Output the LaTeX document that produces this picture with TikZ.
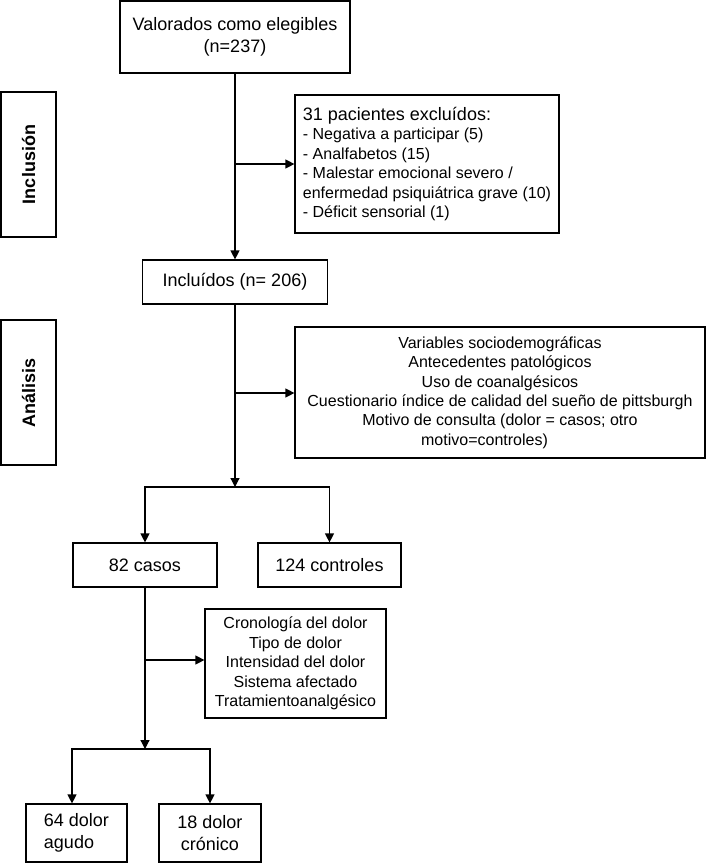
\documentclass[tikz,border=0pt]{standalone}
\usepackage{fontspec}
\setmainfont{Liberation Sans}
\usetikzlibrary{arrows.meta}
\newcommand\fsbig{\fontsize{18pt}{22pt}\selectfont}
\newcommand\fssmall{\fontsize{16pt}{19.4pt}\selectfont}
\begin{document}
\begin{tikzpicture}[x=1pt,y=-1pt,
  box/.style={draw,line width=1.2pt,inner sep=0pt,align=center,font=\fsbig},
  listbox/.style={draw,line width=1.2pt,inner sep=0pt,align=center,font=\fssmall},
  side/.style={draw,line width=1.2pt,inner sep=0pt,rotate=90,font=\fsbig\bfseries,minimum width=145pt,minimum height=55pt},
  arr/.style={line width=1.2pt,-{Triangle[length=9pt,width=9pt]}}]
\useasboundingbox (0,0) rectangle (706,863);
% nodes
\node[box,minimum width=230pt,minimum height=72pt] (top) at (235,37) {Valorados como elegibles\\(n=237)};
\node[side] (incl) at (28.5,164.5) {Inclusión};
\node[listbox,align=left,minimum width=264pt,minimum height=138pt] (excl) at (427,164)
  {{\fsbig 31 pacientes excluídos:}\\- Negativa a participar (5)\\- Analfabetos (15)\\- Malestar emocional severo /\\enfermedad psiquiátrica grave (10)\\- Déficit sensorial (1)};
\node[box,minimum width=185pt,minimum height=44pt] (inclu) at (235,282) {Incluídos (n= 206)};
\node[side] (anal) at (28.5,392.5) {Análisis};
\node[listbox,minimum width=410pt,minimum height=131pt] (vars) at (500,392.5)
  {Variables sociodemográficas\\Antecedentes patológicos\\Uso de coanalgésicos\\Cuestionario índice de calidad del sueño de pittsburgh\\Motivo de consulta (dolor = casos; otro\\motivo=controles)\hspace*{31pt}};
\node[box,minimum width=144pt,minimum height=44pt] (casos) at (145,565) {82 casos};
\node[box,minimum width=143pt,minimum height=44pt] (ctrl) at (329.5,565) {124 controles};
\node[listbox,minimum width=181pt,minimum height=109pt] (tipo) at (295.5,663.5)
  {Cronología del dolor\\Tipo de dolor\\Intensidad del dolor\\Sistema afectado\\Tratamientoanalgésico};
\node[box,align=left,minimum width=101pt,minimum height=58pt] (agudo) at (76.5,833) {64 dolor\\agudo};
\node[box,minimum width=102pt,minimum height=58pt] (cron) at (210,833) {18 dolor\\crónico};
% junction coordinates
\coordinate (j1) at (235,164);
\coordinate (j2) at (235,393);
\coordinate (b1) at (235,487);
\coordinate (j3) at (145,660);
\coordinate (b2) at (145,749);
% connectors
\draw[arr] (top.south) -- (inclu.north);
\draw[arr] (j1) -- (excl.west |- j1);
\draw[arr] (inclu.south) -- (b1);
\draw[arr] (j2) -- (vars.west |- j2);
\draw[arr] (b1) -| (casos.north);
\draw[arr] (b1) -| (ctrl.north);
\draw[arr] (casos.south) -- (b2);
\draw[arr] (j3) -- (tipo.west |- j3);
\draw[arr] (b2) -| ([xshift=-4.5pt]agudo.north);
\draw[arr] (b2) -| (cron.north);
\end{tikzpicture}
\end{document}
